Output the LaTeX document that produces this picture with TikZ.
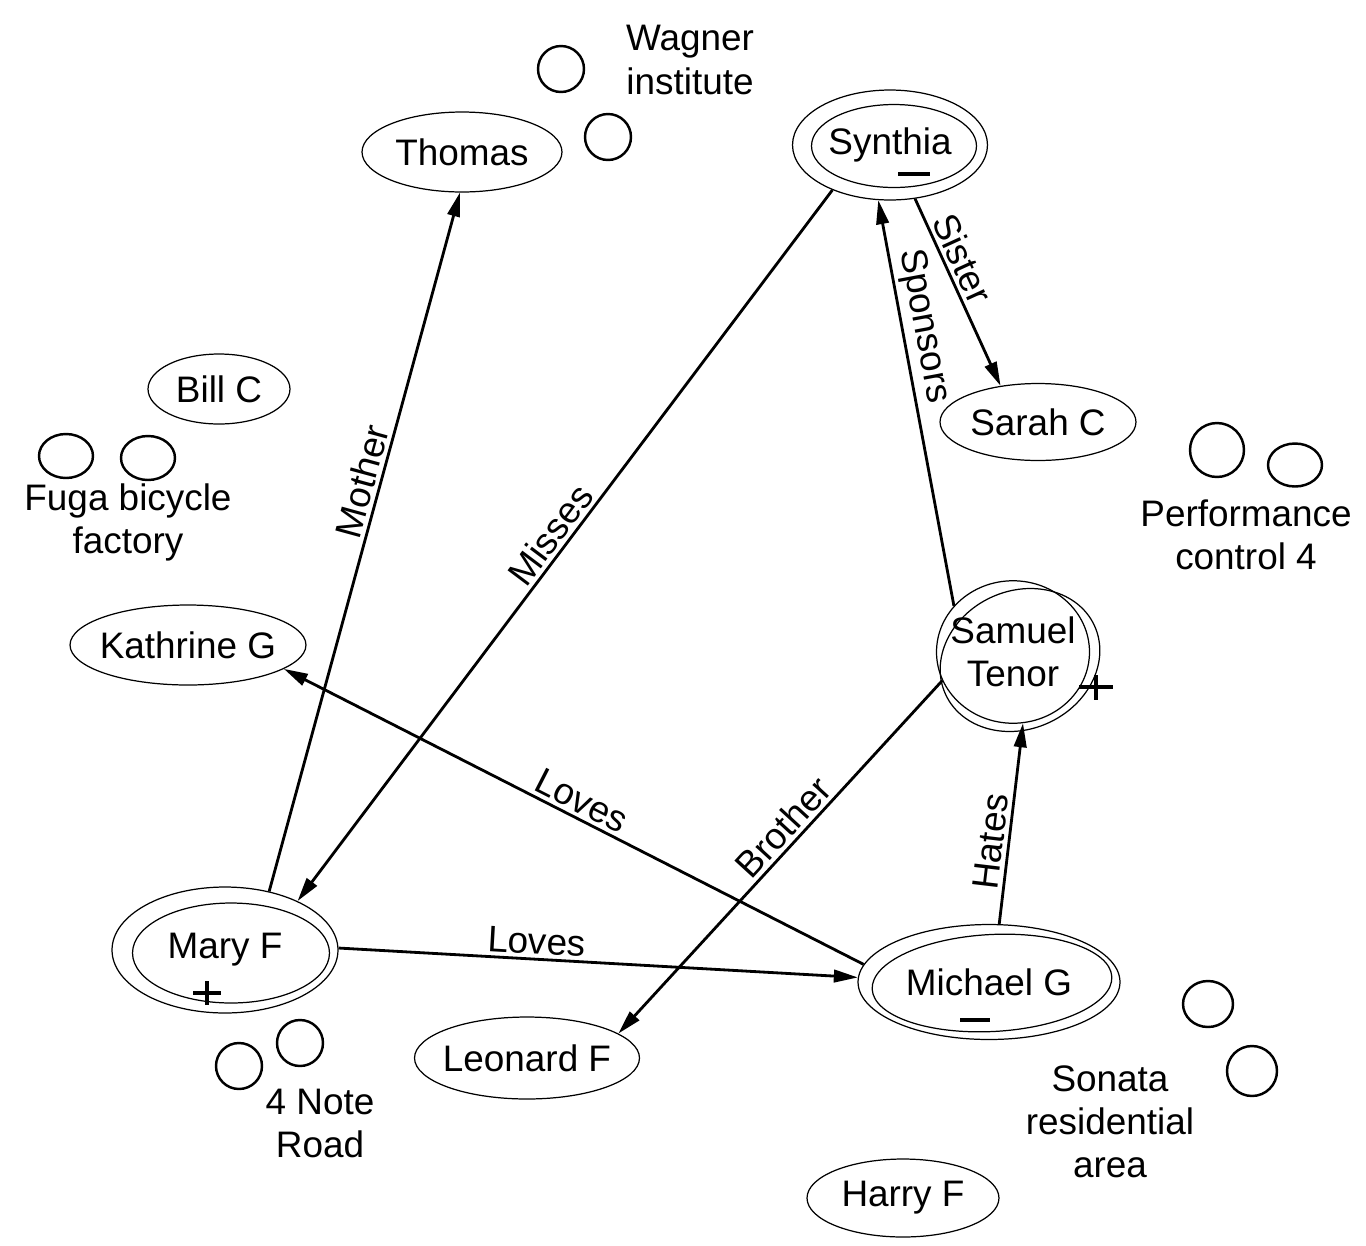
\documentclass[tikz,border=0pt]{standalone}
\usepackage{fontspec}
\setmainfont{Liberation Sans}
\usetikzlibrary{shapes.geometric,arrows.meta}
\tikzset{
  person/.style={ellipse, draw, line width=0.7pt, inner xsep=-10pt, inner ysep=-4pt, align=center},
  place/.style={align=center},
  spot/.style={line width=1.4pt},
  rel/.style={-{Triangle[length=4.8mm,width=2.5mm]}, line width=1.6pt},
  lbl/.style={sloped, above, inner sep=2pt},
  sign/.style={line width=1.8pt}
}
\begin{document}
\begin{tikzpicture}[x=0.02cm, y=-0.02cm, font=\fontsize{21}{24.5}\selectfont]
  \useasboundingbox (0,0) rectangle (1366,1245);
  % people
  \node[person, minimum width=4cm, minimum height=1.6cm] (thomas) at (462,152) {Thomas};
  \node[person, minimum width=3.9cm, minimum height=2.2cm] (synthia) at (890,145) {Synthia};
  \node[person, minimum width=3.92cm, minimum height=1.54cm] (sarah) at (1038,422) {Sarah C};
  \node[person, minimum width=2.84cm, minimum height=1.4cm] (bill) at (219,389) {Bill C};
  \node[person, minimum width=4.72cm, minimum height=1.6cm] (kathrine) at (188,645) {Kathrine G};
  \node[person, minimum width=3.06cm, minimum height=2.85cm] (samuel) at (1013,652) {Samuel\\Tenor};
  \node[person, minimum width=4.52cm, minimum height=2.52cm] (mary) at (225,950) {Mary F};
  \node[person, minimum width=5.24cm, minimum height=2.3cm] (michael) at (989,982) {Michael G};
  \node[person, minimum width=4.5cm, minimum height=1.64cm] (leonard) at (527,1058) {Leonard F};
  \node[person, minimum width=3.84cm, minimum height=1.56cm] (harry) at (903,1198) {Harry F};
  \begin{scope}[line width=0.7pt]
    \draw (894,146) ellipse [x radius=1.65cm, y radius=0.83cm];
    \draw (231,953) ellipse [x radius=1.97cm, y radius=1.0cm];
    \draw[rotate around={3:(992,983)}] (992,983) ellipse [x radius=2.4cm, y radius=0.97cm];
    \draw[rotate around={25:(1020,660)}] (1020,660) ellipse [x radius=1.64cm, y radius=1.38cm];
  \end{scope}
  % signs
  \draw[sign] (898,174) -- (930,174);
  \draw[sign] (193,993) -- (221,993) (207,981) -- (207,1005);
  \draw[sign] (960,1020) -- (990,1020);
  \draw[sign] (1079,687) -- (1113,687) (1096,675) -- (1096,700);
  % places
  \draw[spot] (561,69) circle [radius=0.46cm];
  \draw[spot] (608,137) circle [radius=0.46cm];
  \node[place] (wagner) at (690,60) {Wagner\\institute};
  \draw[spot] (66,456) ellipse [x radius=0.54cm, y radius=0.44cm];
  \draw[spot] (148,458) ellipse [x radius=0.54cm, y radius=0.44cm];
  \node[place] (fuga) at (128,522) {Fuga bicycle\\factory};
  \draw[spot] (1217,450) circle [radius=0.54cm];
  \draw[spot] (1295,465) ellipse [x radius=0.54cm, y radius=0.43cm];
  \node[place] (perf) at (1246,535) {Performance\\control 4};
  \draw[spot] (239,1066) circle [radius=0.46cm];
  \draw[spot] (300,1043) circle [radius=0.46cm];
  \node[place] (noteroad) at (320,1123) {4 Note\\Road};
  \draw[spot] (1208,1004) ellipse [x radius=0.5cm, y radius=0.46cm];
  \draw[spot] (1252,1071) circle [radius=0.5cm];
  \node[place] (sonata) at (1110,1122) {Sonata\\residential\\area};
  % relations
  \begin{scope}[rel]
    \draw (mary.53) to node[lbl, pos=0.58] {Mother} (thomas.-93);
    \draw (synthia.218) to node[lbl] {Misses} (mary.34);
    \draw (michael.172) to node[lbl] {Loves} (kathrine.-14);
    \draw (mary.1) to node[lbl, pos=0.38] {Loves} (michael.178);
    \draw (samuel.202) to node[lbl, pos=0.45] {Brother} (leonard.15);
    \draw (michael.80) to node[lbl, pos=0.4] {Hates} (samuel.-82);
    \draw (samuel.142) to node[lbl, pos=0.68] {Sponsors} (synthia.258);
    \draw (synthia.-65) to node[lbl, pos=0.36] {Sister} (sarah.136);
  \end{scope}
\end{tikzpicture}
\end{document}
